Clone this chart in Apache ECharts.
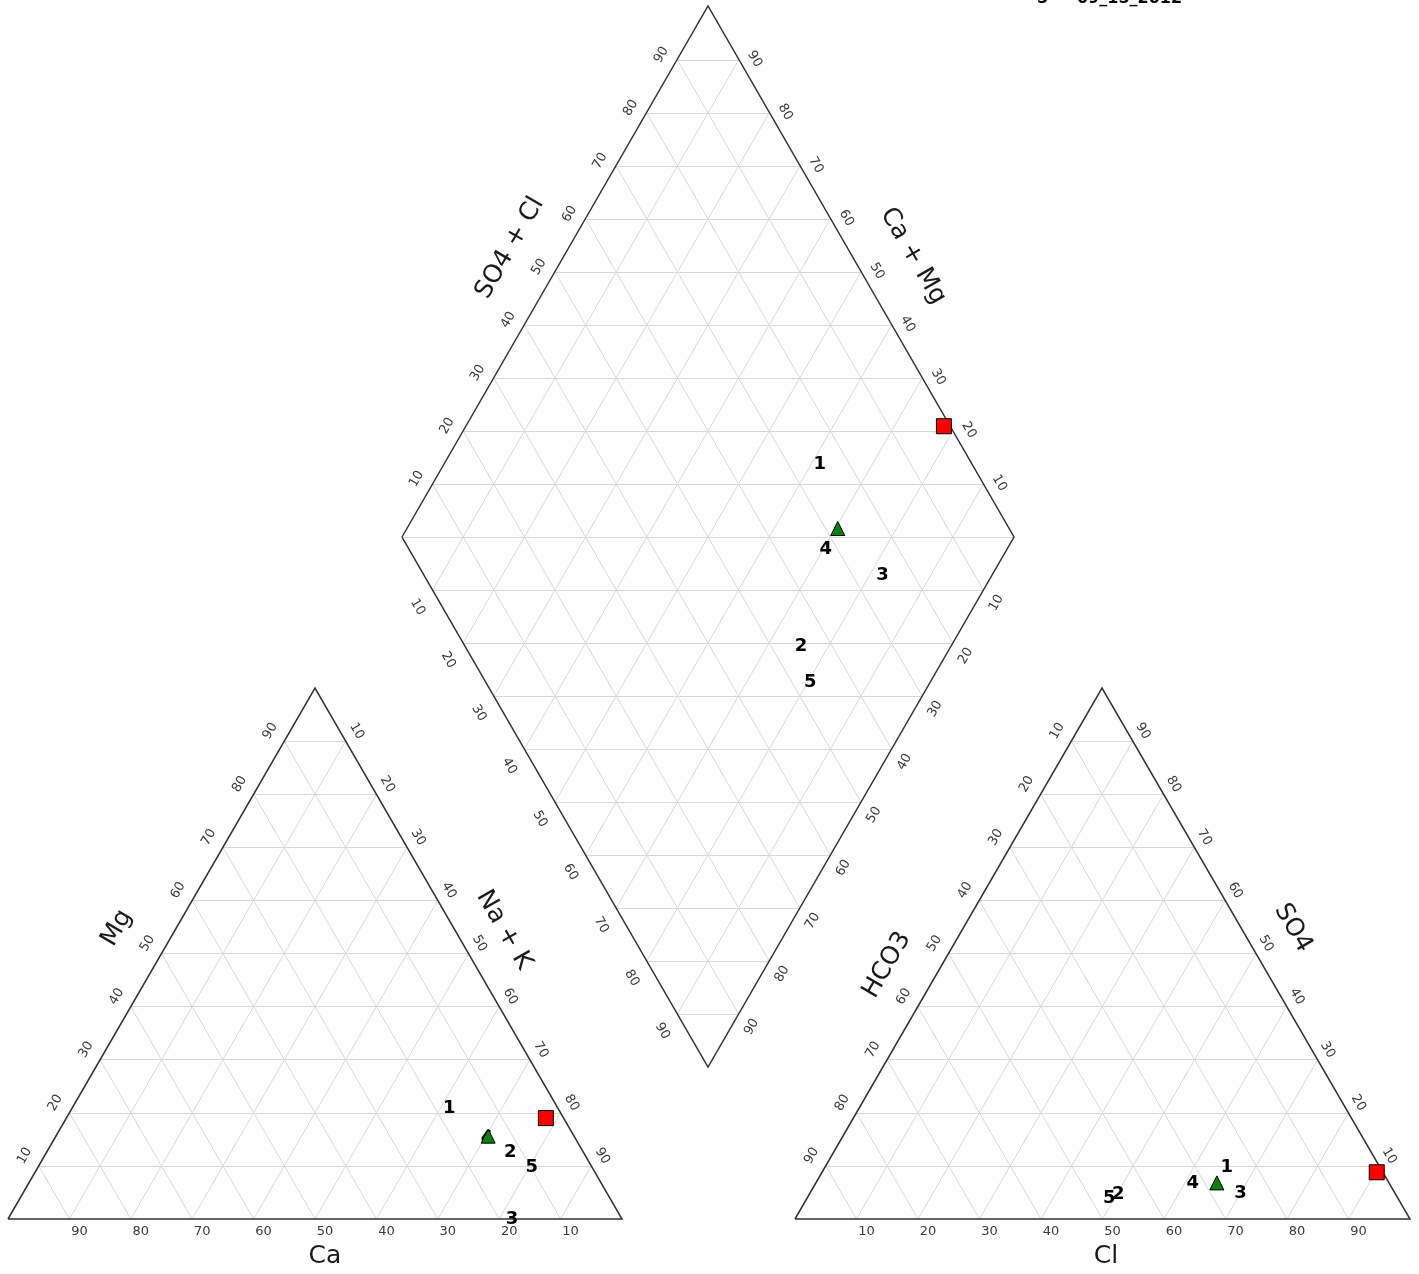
<!DOCTYPE html>
<html>
<head>
<meta charset="utf-8">
<script src="https://cdn.jsdelivr.net/npm/echarts@6/dist/echarts.min.js"></script>
<style>
  html, body { margin: 0; padding: 0; background: #fff; }
  #chart { width: 1419px; height: 1274px; }
</style>
</head>
<body>
<div id="chart"></div>
<script>
// sample labels and compositions (% of meq)
const sampleNames = ['1', '2', '3', '4', '5'];
const ca   = [17.7, 11.9, 17.9, 14.4, 9.8];
const mg   = [20.9, 12.6, 0.0, 15.2, 9.8];
const naK  = [61.4, 75.5, 82.1, 70.4, 80.4];
const so4  = [9.8, 4.7, 4.9, 6.8, 3.8];
const cl   = [65.3, 50.2, 70.0, 61.3, 49.2];
const hco3 = [24.9, 45.1, 25.1, 31.9, 47.0];

// the two marked samples: [Ca, Mg, Na+K] and [SO4, Cl, HCO3]
const squareCations = [2.9, 19.0, 78.1];
const squareAnions = [8.8, 90.2, 1.0];
const triangleCations = [14.0, 15.6, 70.4];
const triangleAnions = [6.8, 65.2, 28.0];

const tickValues = [10, 20, 30, 40, 50, 60, 70, 80, 90];

// layout of the three plots (pixels)
const LEFT = { bl: [8, 1219], top: [315, 688], br: [622, 1219] };
const RIGHT = { bl: [795, 1219], top: [1102, 688], br: [1410, 1219] };
const DIA = { l: [402, 537], t: [708, 6], r: [1014, 537], b: [708, 1067] };

function tern(tri, wBl, wTop, wBr) {
  const s = wBl + wTop + wBr;
  return [
    (wBl * tri.bl[0] + wTop * tri.top[0] + wBr * tri.br[0]) / s,
    (wBl * tri.bl[1] + wTop * tri.top[1] + wBr * tri.br[1]) / s
  ];
}
// a = Ca+Mg fraction, s = SO4+Cl fraction
function dia(a, s) {
  return [
    DIA.b[0] + a * (DIA.l[0] - DIA.b[0]) + s * (DIA.r[0] - DIA.b[0]),
    DIA.b[1] + a * (DIA.l[1] - DIA.b[1]) + s * (DIA.r[1] - DIA.b[1])
  ];
}
const cationPt = (c, m, n) => tern(LEFT, c, m, n);
const anionPt = (s, c, h) => tern(RIGHT, h, s, c);
const diamondPt = (c, m, s, c2) => dia((c + m) / 100, (s + c2) / 100);

// grid + frame
const gridLines = [];
const frameLines = [];
function triGrid(tri) {
  for (let k = 1; k < 10; k++) {
    const f = k / 10;
    gridLines.push({ coords: [tern(tri, 1 - f, f, 0), tern(tri, 0, f, 1 - f)] });
    gridLines.push({ coords: [tern(tri, f, 1 - f, 0), tern(tri, f, 0, 1 - f)] });
    gridLines.push({ coords: [tern(tri, 1 - f, 0, f), tern(tri, 0, 1 - f, f)] });
  }
  frameLines.push({ coords: [tri.bl, tri.top, tri.br, tri.bl] });
}
triGrid(LEFT);
triGrid(RIGHT);
for (let k = 1; k < 10; k++) {
  const f = k / 10;
  gridLines.push({ coords: [dia(f, 0), dia(f, 1)] });
  gridLines.push({ coords: [dia(0, f), dia(1, f)] });
}
for (let k = 1; k < 20; k++) {
  const c = k / 10;
  const a0 = Math.max(0, c - 1), a1 = Math.min(1, c);
  gridLines.push({ coords: [dia(a0, c - a0), dia(a1, c - a1)] });
}
frameLines.push({ coords: [DIA.l, DIA.t, DIA.r, DIA.b, DIA.l] });

// tick labels
const tickLabels = [];
function addTick(pt, dx, dy, text, rot) {
  tickLabels.push({ value: [pt[0] + dx, pt[1] + dy], label: { formatter: String(text), rotate: rot } });
}
tickValues.forEach(v => {
  const f = v / 100;
  addTick(tern(LEFT, f, 0, 1 - f), 10, 13, v, 0);      // Ca
  addTick(tern(LEFT, 1 - f, f, 0), -14, -10, v, 60);   // Mg
  addTick(tern(LEFT, 0, 1 - f, f), 11, -10, v, -60);   // Na + K
  addTick(tern(RIGHT, 1 - f, 0, f), 10, 13, v, 0);     // Cl
  addTick(tern(RIGHT, f, 1 - f, 0), -14, -10, v, 60);  // HCO3
  addTick(tern(RIGHT, 0, f, 1 - f), 10, -10, v, -60);  // SO4
  addTick(dia(1, f), -16, -5, v, 60);                  // SO4 + Cl
  addTick(dia(f, 1), 16, -1, v, -60);                  // Ca + Mg
  addTick(dia(1 - f, 0), -15, 17, v, -60);
  addTick(dia(0, 1 - f), 13, 13, v, 60);
});

// sample number labels in all three plots
const sampleLabels = [];
sampleNames.forEach((n, i) => {
  sampleLabels.push({ name: n, value: cationPt(ca[i], mg[i], naK[i]) });
  sampleLabels.push({ name: n, value: anionPt(so4[i], cl[i], hco3[i]) });
  sampleLabels.push({ name: n, value: diamondPt(ca[i], mg[i], so4[i], cl[i]) });
});
function markerPoints(cat, an) {
  return [
    cationPt(cat[0], cat[1], cat[2]),
    anionPt(an[0], an[1], an[2]),
    diamondPt(cat[0], cat[1], an[0], an[1])
  ];
}

const FONT = 'DejaVu Sans';
function title(text, x, y, deg) {
  return {
    type: 'text', x: x, y: y, rotation: deg * Math.PI / 180,
    style: { text: text, fill: '#1a1a1a', fontSize: 25, fontFamily: FONT, align: 'center', verticalAlign: 'middle', textAlign: 'center', textVerticalAlign: 'middle' }
  };
}

const chart = echarts.init(document.getElementById('chart'));
chart.setOption({
  animation: false,
  grid: { left: 0, top: 0, right: 0, bottom: 0 },
  xAxis: { type: 'value', min: 0, max: 1419, show: false },
  yAxis: { type: 'value', min: 0, max: 1274, inverse: true, show: false },
  graphic: [
    title('SO4 + Cl', 510, 248, 60),
    title('Ca + Mg', 913, 256, -60),
    title('Mg', 117, 928, 60),
    title('Na + K', 504, 930, -60),
    title('Ca', 325, 1256, 0),
    title('HCO3', 887, 965, 60),
    title('SO4', 1293, 928, -60),
    title('Cl', 1106, 1256, 0),
    { type: 'text', x: 1037, y: 7, style: { text: '5', fill: '#000', fontSize: 16, fontWeight: 'bold', fontFamily: FONT, verticalAlign: 'bottom', textVerticalAlign: 'bottom' } },
    { type: 'text', x: 1077, y: 7, style: { text: '09_15_2012', fill: '#000', fontSize: 16, fontWeight: 'bold', fontFamily: FONT, verticalAlign: 'bottom', textVerticalAlign: 'bottom' } }
  ],
  series: [
    {
      type: 'lines', coordinateSystem: 'cartesian2d', silent: true, z: 1,
      lineStyle: { color: '#d8d8d8', width: 1, opacity: 1 },
      data: gridLines
    },
    {
      type: 'lines', coordinateSystem: 'cartesian2d', polyline: true, silent: true, z: 2,
      lineStyle: { color: '#333', width: 1.5, opacity: 1 },
      data: frameLines
    },
    {
      type: 'scatter', silent: true, z: 3, symbolSize: 1,
      itemStyle: { color: 'rgba(0,0,0,0)', opacity: 1 },
      label: { show: true, position: 'inside', color: '#3a3a3a', fontSize: 13, fontFamily: FONT },
      data: tickLabels
    },
    {
      type: 'scatter', silent: true, z: 3, symbolSize: 1,
      itemStyle: { color: 'rgba(0,0,0,0)', opacity: 1 },
      label: { show: true, position: 'inside', formatter: '{b}', color: '#000', fontSize: 18, fontWeight: 'bold', fontFamily: FONT },
      data: sampleLabels
    },
    {
      type: 'scatter', silent: true, z: 4, symbol: 'rect', symbolSize: 15,
      itemStyle: { color: '#ff0000', borderColor: '#000', borderWidth: 1, opacity: 1 },
      data: markerPoints(squareCations, squareAnions)
    },
    {
      type: 'scatter', silent: true, z: 4, symbol: 'triangle', symbolSize: 14,
      itemStyle: { color: '#0f7f0f', borderColor: '#000', borderWidth: 1, opacity: 1 },
      data: markerPoints(triangleCations, triangleAnions)
    }
  ]
});
</script>
</body>
</html>
